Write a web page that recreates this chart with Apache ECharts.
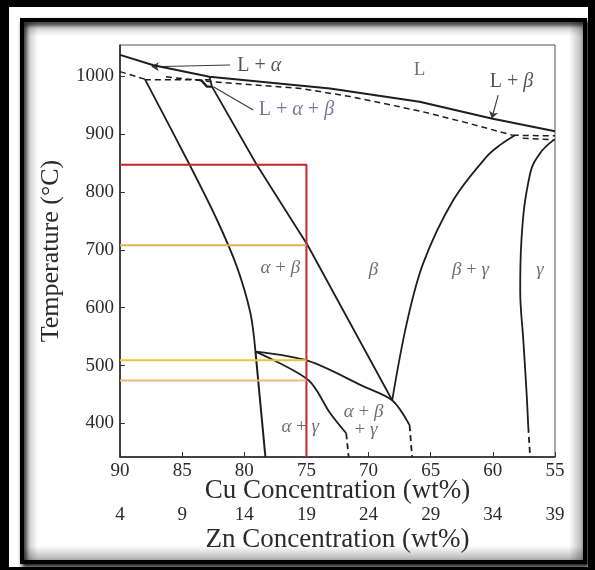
<!DOCTYPE html>
<html>
<head>
<meta charset="utf-8">
<script src="https://cdn.jsdelivr.net/npm/echarts@6/dist/echarts.min.js"></script>
<style>
  html, body { margin: 0; padding: 0; background: #000; }
  #chart { width: 595px; height: 570px; }
</style>
</head>
<body>
<div id="chart"></div>
<script>
// Cu–Zn phase diagram (brass region), temperature vs. Cu content
const cuTicks = [90, 85, 80, 75, 70, 65, 60, 55];
const znTicks = [4, 9, 14, 19, 24, 29, 34, 39];
const tempTicks = [400, 500, 600, 700, 800, 900, 1000];
const tempMin = 342;
const tempMax = 1054;

// phase boundaries: [Cu wt%, °C]
const liquidus = [[90, 1037], [87.3, 1019], [82.8, 999], [73.1, 979], [65.9, 956], [60.1, 927], [55, 905]];
const alphaSolidus = [[90, 1008], [88.0, 995]];
const peritecticLine = [[88.0, 994], [82.8, 994]];
const betaSolidus = [[86.3, 999], [82.8, 991], [75.5, 979], [71.5, 965], [65.9, 940], [62.0, 919], [58.4, 898]];
const gammaTopA = [[58.4, 898], [55, 897]];
const gammaTopB = [[57.6, 893], [55, 890]];
const threePhaseCorner = [[83.5, 994], [83.0, 982], [82.6, 982]];
const alphaBoundary = [[88.0, 995], [84.4, 847], [82.2, 752], [80.6, 671], [79.5, 590], [79.1, 524]];
const alphaLow = [[79.1, 524], [78.3, tempMin]];
const betaBoundary = [[82.8, 999], [82.6, 982], [79.0, 847], [76.2, 752], [74.9, 708], [68.1, 440]];
const betaGammaBoundary = [[68.1, 440], [66.93, 573], [65.6, 677], [63.18, 786], [60.5, 861], [59.43, 881], [58.22, 898]];
const gammaBoundary = [[55.1, 890], [56.2, 867], [57.0, 832], [57.7, 717], [57.8, 631], [57.55, 544], [57.3, 458], [57.15, 394]];
const gammaBoundaryEnd = [[57.15, 394], [57.0, tempMin]];
const upperCurve = [[79.1, 524], [74.85, 508], [70.4, 464], [68.1, 440], [66.7, 397]];
const upperCurveEnd = [[66.7, 397], [66.5, tempMin]];
const lowerCurve = [[79.1, 524], [74.85, 475], [73.1, 418], [71.8, 383]];
const lowerCurveEnd = [[71.8, 383], [71.6, tempMin]];

// highlighted alloy (75 wt% Cu) and its reference temperatures
const alloyCu = 75;
const startTemp = 847;
const levelTemps = [708, 509, 474];
const levelColors = ['#dfb25a', '#e9c53a', '#f0b77a'];

// region names: [Cu wt%, °C, text]
const regionLabels = [
  [65.9, 1011, 'L'],
  [77.1, 668, '{i|α} + {i|β}'],
  [69.6, 665, '{i|β}'],
  [61.8, 665, '{i|β} + {i|γ}'],
  [56.2, 665, '{i|γ}'],
  [75.5, 394, '{i|α} + {i|γ}'],
  [70.4, 420, '{i|α} + {i|β}'],
  [70.2, 389, '+ {i|γ}']
];
const calloutLabels = [
  [78.8, 1019, 'L + {i|α}', '#2b2b2b'],
  [75.8, 942, 'L + {i|α} + {i|β}', '#5a5488'],
  [58.5, 990, 'L + {i|β}', '#2b2b2b']
];
const leaders = [
  { from: [81.15, 1019.4], to: [87.45, 1016.4], arrow: true },
  { from: [79.28, 941.6], to: [82.49, 982], arrow: false },
  { from: [59.57, 967.5], to: [60.09, 927], arrow: true }
];

const SERIF = '"Liberation Serif", "DejaVu Serif", serif';
const INK = '#1e1e1e';

function curve(data, opt) {
  opt = opt || {};
  return {
    type: 'line',
    data: data,
    showSymbol: false,
    symbol: 'none',
    smooth: opt.smooth || 0,
    silent: true,
    z: opt.z || 3,
    lineStyle: {
      color: opt.color || INK,
      width: opt.width || 1.8,
      type: opt.dash ? [6, 4] : 'solid'
    }
  };
}

const series = [
  curve(liquidus, { width: 2 }),
  curve(alphaSolidus, { dash: true, width: 1.5 }),
  curve(peritecticLine, { dash: true, width: 1.5 }),
  curve(betaSolidus, { dash: true, width: 1.5 }),
  curve(gammaTopA, { dash: true, width: 1.5 }),
  curve(gammaTopB, { dash: true, width: 1.5 }),
  curve(threePhaseCorner, { width: 2.4 }),
  curve(alphaBoundary, { smooth: 0.3 }),
  curve(alphaLow, { width: 2 }),
  curve(betaBoundary, {}),
  curve(betaGammaBoundary, { smooth: 0.35 }),
  curve(gammaBoundary, { smooth: 0.4 }),
  curve(gammaBoundaryEnd, { dash: true }),
  curve(upperCurve, { smooth: 0.3 }),
  curve(upperCurveEnd, { dash: true }),
  curve(lowerCurve, { smooth: 0.3 }),
  curve(lowerCurveEnd, { dash: true }),
  curve([[90, startTemp], [alloyCu, startTemp], [alloyCu, tempMin]], { color: '#c4262e', width: 2, z: 4 })
];

levelTemps.forEach(function (t, i) {
  series.push(curve([[90, t], [alloyCu, t]], { color: levelColors[i], width: 2, z: 4 }));
});

series.push({
  type: 'lines',
  coordinateSystem: 'cartesian2d',
  silent: true,
  z: 3,
  lineStyle: { color: '#3a3a3a', width: 1.1, opacity: 1 },
  symbolSize: 7,
  data: leaders.map(function (l) {
    return { coords: [l.from, l.to], symbol: ['none', l.arrow ? 'arrow' : 'none'] };
  })
});

series.push({
  type: 'scatter',
  silent: true,
  symbolSize: 1,
  itemStyle: { color: 'rgba(0,0,0,0)' },
  z: 5,
  data: regionLabels,
  label: {
    show: true,
    position: 'inside',
    formatter: function (p) { return p.data[2]; },
    fontFamily: SERIF,
    fontSize: 19,
    color: '#4a4a55',
    rich: { i: { fontStyle: 'italic', fontFamily: SERIF, fontSize: 19, color: '#4a4a55' } }
  }
});

series.push({
  type: 'scatter',
  silent: true,
  symbolSize: 1,
  itemStyle: { color: 'rgba(0,0,0,0)' },
  z: 5,
  data: calloutLabels.map(function (c) {
    return {
      value: [c[0], c[1], c[2]],
      label: {
        color: c[3],
        rich: { i: { fontStyle: 'italic', fontFamily: SERIF, fontSize: 20, color: c[3] } }
      }
    };
  }),
  label: {
    show: true,
    position: 'inside',
    formatter: function (p) { return p.data.value[2]; },
    fontFamily: SERIF,
    fontSize: 20
  }
});

function edgeShade(x, y, w, h, dir) {
  // soft inner shading along the framed border
  const g = { x: 0, y: 0, x2: 0, y2: 0 };
  if (dir === 'top') g.y2 = 1;
  if (dir === 'bottom') { g.y = 1; }
  if (dir === 'left') g.x2 = 1;
  if (dir === 'right') { g.x = 1; }
  return {
    type: 'rect',
    z: -8,
    silent: true,
    shape: { x: x, y: y, width: w, height: h },
    style: {
      fill: new echarts.graphic.LinearGradient(g.x, g.y, g.x2, g.y2, [
        { offset: 0, color: 'rgba(0,0,0,0.30)' },
        { offset: 1, color: 'rgba(0,0,0,0)' }
      ])
    }
  };
}

const chart = echarts.init(document.getElementById('chart'), null, { renderer: 'canvas' });

chart.setOption({
  backgroundColor: '#000',
  animation: false,
  graphic: [
    { type: 'rect', z: -10, silent: true, shape: { x: 9, y: 7, width: 579, height: 560 }, style: { fill: '#fff' } },
    {
      type: 'rect', z: -9, silent: true,
      shape: { x: 22, y: 20, width: 563, height: 542 },
      style: {
        fill: '#fff', stroke: '#000', lineWidth: 4,
        shadowBlur: 4, shadowColor: 'rgba(0,0,0,0.9)', shadowOffsetX: 2, shadowOffsetY: 3
      }
    },
    edgeShade(24, 22, 559, 14, 'top'),
    edgeShade(24, 546, 559, 14, 'bottom'),
    edgeShade(24, 22, 14, 538, 'left'),
    edgeShade(569, 22, 14, 538, 'right')
  ],
  grid: {
    left: 120, right: 40, top: 45, bottom: 113,
    show: true, borderColor: '#555', borderWidth: 1, backgroundColor: 'transparent'
  },
  xAxis: [
    {
      type: 'value', min: 55, max: 90, interval: 5, inverse: true, position: 'bottom',
      axisLine: { show: true, onZero: false, lineStyle: { color: '#222', width: 1.5 } },
      axisTick: { show: true, inside: true, length: 5, lineStyle: { color: '#333' } },
      splitLine: { show: false },
      axisLabel: { fontFamily: SERIF, fontSize: 19, color: '#2b2b2b', margin: 5 },
      name: 'Cu Concentration (wt%)',
      nameLocation: 'middle',
      nameGap: 20,
      nameMoveOverlap: false,
      nameTextStyle: { fontFamily: SERIF, fontSize: 27, color: '#2b2b2b' }
    },
    {
      type: 'value', min: 55, max: 90, interval: 5, inverse: true, position: 'bottom', offset: 45,
      axisLine: { show: false },
      axisTick: { show: false },
      splitLine: { show: false },
      axisLabel: {
        fontFamily: SERIF, fontSize: 19, color: '#2b2b2b', margin: 4,
        formatter: function (v) {
          const k = cuTicks.indexOf(v);
          return k >= 0 ? String(znTicks[k]) : '';
        }
      },
      name: 'Zn Concentration (wt%)',
      nameLocation: 'middle',
      nameGap: 24,
      nameMoveOverlap: false,
      nameTextStyle: { fontFamily: SERIF, fontSize: 27, color: '#2b2b2b' }
    }
  ],
  yAxis: {
    type: 'value', min: tempMin, max: tempMax,
    axisLine: { show: true, onZero: false, lineStyle: { color: '#222', width: 1.5 } },
    axisTick: { show: true, inside: true, length: 5, customValues: tempTicks, lineStyle: { color: '#333' } },
    splitLine: { show: false },
    axisLabel: {
      fontFamily: SERIF, fontSize: 19, color: '#2b2b2b', margin: 6, customValues: tempTicks,
      formatter: function (v) { return String(v); }
    },
    name: 'Temperature (°C)',
    nameLocation: 'middle',
    nameGap: 56,
    nameRotate: 90,
    nameMoveOverlap: false,
    nameTextStyle: { fontFamily: SERIF, fontSize: 26, color: '#2b2b2b' }
  },
  series: series
});
</script>
</body>
</html>
